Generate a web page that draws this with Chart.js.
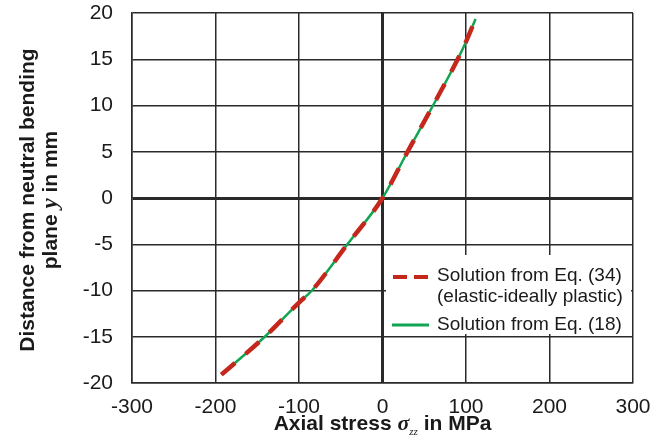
<!DOCTYPE html>
<html>
<head>
<meta charset="utf-8">
<script src="https://cdn.jsdelivr.net/npm/chart.js@4/dist/chart.umd.min.js"></script>
<style>
  html, body { margin: 0; padding: 0; background: #fff; }
  #wrap { width: 662px; height: 442px; }
</style>
</head>
<body>
<div id="wrap"><canvas id="c" width="662" height="442"></canvas></div>
<script>
// values
const yPos = [-19.1, -15, -11.3, -10, -5, 0, 5, 10, 15, 16.9, 19.35];
const stressEq34 = [-193, -141, -100, -84.5, -42, 0, 30, 60.5, 90, 100, 111.4];
const stressEq18 = [-193, -141, -100, -84.5, -42, 0, 30, 60.5, 90, 100, 111.4];
const xTicks = [-300, -200, -100, 0, 100, 200, 300];
const yTicks = [-20, -15, -10, -5, 0, 5, 10, 15, 20];
const legendLabels = ["Solution from Eq. (34)", "(elastic-ideally plastic)", "Solution from Eq. (18)"];

const SANS = '"Liberation Sans", Arial, sans-serif';
const SERIF = '"Liberation Serif", "Times New Roman", serif';
const RED = '#c4281c';
const GREEN = '#11a552';

function pts(xs) {
    return xs.map((x, i) => ({ x: x, y: yPos[i] }));
}

// draw a run of text pieces with different fonts, starting at x
function drawPieces(ctx, pieces, x, y) {
    for (const p of pieces) {
        ctx.font = p.font;
        ctx.fillText(p.text, x, y + (p.dy || 0));
        x += ctx.measureText(p.text).width;
    }
}
function piecesWidth(ctx, pieces) {
    let w = 0;
    for (const p of pieces) { ctx.font = p.font; w += ctx.measureText(p.text).width; }
    return w;
}

const extras = {
    id: 'extras',
    beforeDatasetsDraw(chart) {
        // legend box sits over the grid
        const ctx = chart.ctx;
        const ca = chart.chartArea;
        ctx.save();
        ctx.fillStyle = '#fff';
        ctx.fillRect(386, 255, ca.right - 388, 79);
        ctx.restore();
    },
    afterDraw(chart) {
        const ctx = chart.ctx;
        const ca = chart.chartArea;
        ctx.save();
        ctx.fillStyle = '#1a1a1a';
        ctx.textBaseline = 'alphabetic';

        // legend
        ctx.lineWidth = 4;
        ctx.strokeStyle = RED;
        ctx.setLineDash([14, 7]);
        ctx.beginPath(); ctx.moveTo(393, 277); ctx.lineTo(428, 277); ctx.stroke();
        ctx.setLineDash([]);
        ctx.lineWidth = 3;
        ctx.strokeStyle = GREEN;
        ctx.beginPath(); ctx.moveTo(392, 325); ctx.lineTo(429, 325); ctx.stroke();
        ctx.font = '19px ' + SANS;
        ctx.textAlign = 'left';
        ctx.fillText(legendLabels[0], 437, 281);
        ctx.fillText(legendLabels[1], 437, 302);
        ctx.fillText(legendLabels[2], 437, 330);

        // x title
        const xt = [
            { text: 'Axial stress ', font: 'bold 21px ' + SANS },
            { text: 'σ', font: 'bold italic 22px ' + SERIF },
            { text: 'zz', font: 'italic 11px ' + SERIF, dy: 5 },
            { text: ' in MPa', font: 'bold 21px ' + SANS }
        ];
        const cx = (ca.left + ca.right) / 2;
        drawPieces(ctx, xt, cx - piecesWidth(ctx, xt) / 2, 430);

        // y title, two lines
        ctx.translate(0, 200);
        ctx.rotate(-Math.PI / 2);
        const l1 = [{ text: 'Distance from neutral bending', font: 'bold 21px ' + SANS }];
        const l2 = [
            { text: 'plane ', font: 'bold 21px ' + SANS },
            { text: 'y', font: 'bold italic 23px ' + SERIF },
            { text: ' in mm', font: 'bold 21px ' + SANS }
        ];
        drawPieces(ctx, l1, -piecesWidth(ctx, l1) / 2, 34);
        drawPieces(ctx, l2, -piecesWidth(ctx, l2) / 2, 57);
        ctx.restore();
    }
};

new Chart(document.getElementById('c').getContext('2d'), {
    type: 'scatter',
    data: {
        datasets: [{
            label: legendLabels[0],
            data: pts(stressEq34),
            showLine: true,
            borderColor: RED,
            borderWidth: 4.5,
            borderDash: [18, 14],
            pointRadius: 0,
            cubicInterpolationMode: 'monotone',
            fill: false
        }, {
            label: legendLabels[2],
            data: pts(stressEq18),
            showLine: true,
            borderColor: GREEN,
            borderWidth: 2.5,
            pointRadius: 0,
            cubicInterpolationMode: 'monotone',
            fill: false
        }]
    },
    options: {
        responsive: false,
        animation: false,
        layout: { padding: { left: 0, right: 29, top: 13, bottom: 0 } },
        plugins: {
            legend: { display: false },
            tooltip: { enabled: false }
        },
        scales: {
            x: {
                type: 'linear',
                min: -300, max: 300,
                afterBuildTicks: s => { s.ticks = xTicks.map(v => ({ value: v })); },
                afterFit: s => { s.height = 59; s.paddingLeft = 0; s.paddingRight = 0; },
                ticks: { font: { family: SANS, size: 21 }, color: '#1a1a1a', padding: 12 },
                grid: {
                    drawTicks: false,
                    color: '#2a2a2a',
                    lineWidth: c => c.tick && c.tick.value === 0 ? 3 : 1.5
                },
                border: { color: '#2a2a2a', width: 1.5 }
            },
            y: {
                type: 'linear',
                min: -20, max: 20,
                afterBuildTicks: s => { s.ticks = yTicks.map(v => ({ value: v })); },
                afterFit: s => { s.width = 132; s.paddingTop = 0; s.paddingBottom = 0; },
                ticks: { font: { family: SANS, size: 21 }, color: '#1a1a1a', padding: 19 },
                grid: {
                    drawTicks: false,
                    color: '#2a2a2a',
                    lineWidth: c => c.tick && c.tick.value === 0 ? 3 : 1.5
                },
                border: { color: '#2a2a2a', width: 1.5 }
            }
        }
    },
    plugins: [extras]
});
</script>
</body>
</html>
